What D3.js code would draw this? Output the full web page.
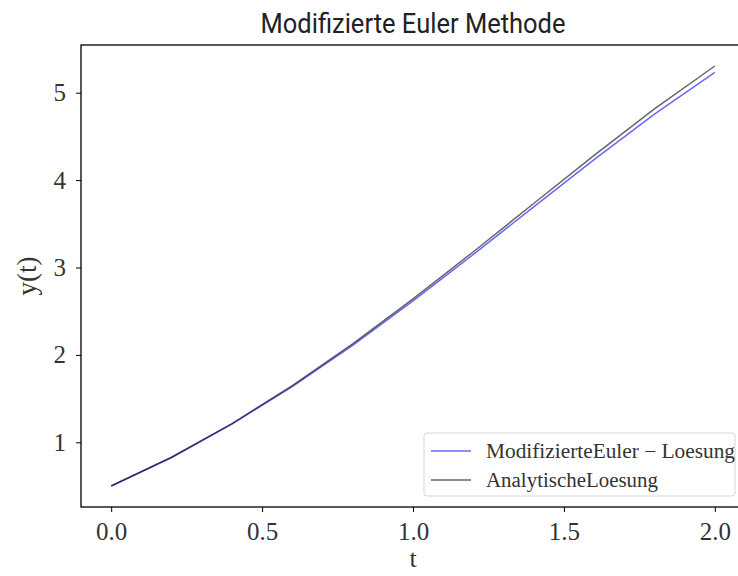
<!DOCTYPE html>
<html>
<head>
<meta charset="utf-8">
<script src="https://cdn.jsdelivr.net/npm/d3@7"></script>
<style>
  body { margin: 0; background: #fff; }
  .tick text { font-family: "Liberation Serif", "DejaVu Serif", serif; }
</style>
</head>
<body>
<script>
// t-Werte und Loesungen
var tValues = [0.0, 0.2, 0.4, 0.6, 0.8, 1.0, 1.2, 1.4, 1.6, 1.8, 2.0];
var eulerValues = [0.5, 0.826, 1.2069, 1.6372, 2.1102, 2.6177, 3.1496, 3.6937, 4.2351, 4.7556, 5.2331];
var exactValues = [0.5, 0.8293, 1.2141, 1.6489, 2.1272, 2.6409, 3.1799, 3.7324, 4.2835, 4.8152, 5.3055];
var xTicks = [0.0, 0.5, 1.0, 1.5, 2.0];
var yTicks = [1, 2, 3, 4, 5];
var seriesNames = ["ModifizierteEuler \u2212 Loesung", "AnalytischeLoesung"];

window.onload = drawChart();

function drawChart(){
    var width = 738,
        height = 576;
    var left = 81, right = 745, top = 45, bottom = 507;

    var svg = d3.select("body")
        .append("svg")
        .attr("width", width)
        .attr("height", height);

    // matplotlib-artige Raender (5%)
    var xPad = (d3.max(tValues) - d3.min(tValues)) * 0.05;
    var allY = eulerValues.concat(exactValues);
    var yPad = (d3.max(allY) - d3.min(allY)) * 0.05;

    var x = d3.scaleLinear()
        .domain([d3.min(tValues) - xPad, d3.max(tValues) + xPad])
        .range([left, right]);
    var y = d3.scaleLinear()
        .domain([d3.min(allY) - yPad, d3.max(allY) + yPad])
        .range([bottom, top]);

    var line = d3.line()
        .x(function(d, i){ return x(tValues[i]); })
        .y(function(d){ return y(d); });

    svg.append("path")
        .datum(eulerValues)
        .attr("fill", "none")
        .attr("stroke", "rgba(0,0,255,0.6)")
        .attr("stroke-width", 1.5)
        .attr("d", line);

    svg.append("path")
        .datum(exactValues)
        .attr("fill", "none")
        .attr("stroke", "rgba(0,0,0,0.6)")
        .attr("stroke-width", 1.5)
        .attr("d", line);

    //axes
    var xAxis = svg.append("g")
        .attr("transform", "translate(0," + bottom + ")")
        .call(d3.axisBottom(x).tickValues(xTicks).tickFormat(d3.format(".1f")).tickSize(5).tickPadding(10));
    var yAxis = svg.append("g")
        .attr("transform", "translate(" + left + ",0)")
        .call(d3.axisLeft(y).tickValues(yTicks).tickFormat(d3.format("d")).tickSize(5).tickPadding(10));

    [xAxis, yAxis].forEach(function(g){
        g.select(".domain").remove();
        g.selectAll(".tick line").attr("stroke", "#000").attr("stroke-width", 1);
        g.selectAll(".tick text").attr("font-size", 25).attr("fill", "#333");
    });

    // rahmen
    svg.append("rect")
        .attr("x", left)
        .attr("y", top)
        .attr("width", right - left)
        .attr("height", bottom - top)
        .attr("fill", "none")
        .attr("stroke", "#000")
        .attr("stroke-width", 1.3);

    svg.append("text")
        .attr("x", (left + right) / 2)
        .attr("y", 33)
        .attr("text-anchor", "middle")
        .attr("font-family", "Liberation Sans Narrow, Roboto, sans-serif")
        .attr("font-size", 27)
        .attr("textLength", 305)
        .attr("lengthAdjust", "spacingAndGlyphs")
        .attr("fill", "#222")
        .text("Modifizierte Euler Methode");

    svg.append("text")
        .attr("x", (left + right) / 2)
        .attr("y", 567)
        .attr("text-anchor", "middle")
        .attr("font-family", "Liberation Serif, serif")
        .attr("font-size", 26)
        .attr("fill", "#333")
        .text("t");

    svg.append("text")
        .attr("transform", "translate(36," + ((top + bottom) / 2) + ") rotate(-90)")
        .attr("text-anchor", "middle")
        .attr("font-family", "Liberation Serif, serif")
        .attr("font-size", 27)
        .attr("fill", "#333")
        .text("y(t)");

    //legende
    var legend = svg.append("g");
    legend.append("rect")
        .attr("x", 424)
        .attr("y", 433)
        .attr("width", 311)
        .attr("height", 63)
        .attr("rx", 3)
        .attr("fill", "#fff")
        .attr("fill-opacity", 0.8)
        .attr("stroke", "#d5d5d5");
    var colors = ["rgba(0,0,255,0.6)", "rgba(0,0,0,0.6)"];
    var textWidths = [249, 172];
    seriesNames.forEach(function(name, i){
        var ly = 451 + i * 29;
        legend.append("line")
            .attr("x1", 431).attr("x2", 471)
            .attr("y1", ly).attr("y2", ly)
            .attr("stroke", colors[i])
            .attr("stroke-width", 1.5);
        legend.append("text")
            .attr("x", 486)
            .attr("y", ly + 7)
            .attr("font-family", "Liberation Serif, serif")
            .attr("font-size", 20)
            .attr("textLength", textWidths[i])
            .attr("lengthAdjust", "spacingAndGlyphs")
            .attr("fill", "#333")
            .text(name);
    });
}
</script>
</body>
</html>
